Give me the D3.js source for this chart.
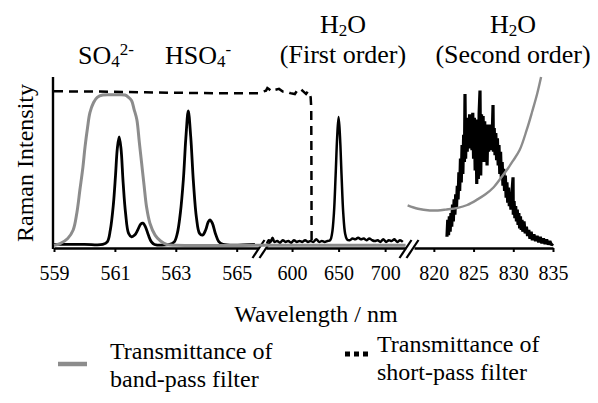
<!DOCTYPE html>
<html>
<head>
<meta charset="utf-8">
<script src="https://cdn.jsdelivr.net/npm/d3@7"></script>
<style>
  body { margin: 0; background: #fff; }
  text { font-family: "Liberation Serif", "Times New Roman", serif; fill: #000; }
</style>
</head>
<body>
<div id="chart"></div>
<script>
var width = 598,
    height = 403;

// wavelength windows of the three axis pieces (nm)
var seg1Domain = [559, 565.7],
    seg2Domain = [572, 722],
    seg3Domain = [817.5, 835];

var ticks1 = [559, 561, 563, 565],
    ticks2 = [600, 650, 700],
    ticks3 = [820, 825, 830, 835];

// Raman spectrum, sulfate region [nm, intensity]
var raman1 = [[559,0.015],[560,0.015],[560.6,0.015],[560.75,0.03],[560.85,0.1],[560.95,0.25],[561.02,0.42],
  [561.08,0.58],[561.14,0.647],[561.2,0.58],[561.27,0.38],[561.35,0.2],[561.45,0.08],[561.55,0.06],
  [561.65,0.07],[561.75,0.1],[561.85,0.135],[561.92,0.14],[562.0,0.12],[562.1,0.07],[562.2,0.03],
  [562.3,0.015],[562.8,0.015],[562.95,0.03],[563.05,0.08],[563.15,0.2],[563.25,0.4],[563.33,0.64],
  [563.41,0.8],[563.49,0.65],[563.58,0.38],[563.68,0.17],[563.78,0.08],[563.88,0.07],[563.98,0.1],
  [564.06,0.145],[564.12,0.16],[564.2,0.14],[564.3,0.08],[564.42,0.03],[564.55,0.015],[565.6,0.015]];

// first order water band
var raman2 = [[573,0.02],[575,0.04],[577,0.03],[579,0.055],[581,0.03],[584,0.035],[587,0.025],[590,0.04],
  [593,0.03],[596,0.035],[599,0.025],[602,0.04],[605,0.03],[608,0.035],[611,0.03],[614,0.04],[617,0.03],
  [620,0.035],[623,0.03],[626,0.045],[629,0.03],[632,0.035],[635,0.03],[638,0.035],[641,0.04],[643,0.08],
  [645,0.2],[646.8,0.42],[648.5,0.65],[650,0.765],[651.5,0.65],[653.2,0.42],[655,0.2],[657,0.08],
  [659,0.045],[662,0.04],[665,0.05],[668,0.045],[671,0.055],[674,0.045],[677,0.05],[680,0.04],[683,0.05],
  [686,0.04],[689,0.035],[692,0.04],[695,0.03],[698,0.045],[701,0.03],[704,0.04],[707,0.035],[710,0.045],
  [713,0.03],[716,0.04],[719,0.03]];

// second order water band (noisy)
var raman3 = [[821.65,0.06],[821.75,0.16],[821.85,0.07],[821.95,0.18],[822.05,0.09],[822.15,0.2],
  [822.25,0.12],[822.35,0.25],[822.45,0.15],[822.55,0.28],[822.65,0.19],[822.75,0.31],[822.85,0.23],
  [822.95,0.36],[823.05,0.28],[823.15,0.44],[823.25,0.33],[823.35,0.52],[823.45,0.38],[823.55,0.6],
  [823.65,0.43],[823.75,0.66],[823.85,0.5],[823.92,0.9],[824.0,0.52],[824.1,0.74],[824.2,0.56],
  [824.3,0.76],[824.4,0.58],[824.5,0.78],[824.6,0.6],[824.7,0.77],[824.8,0.57],[824.9,0.79],[825.0,0.52],
  [825.1,0.76],[825.2,0.45],[825.3,0.75],[825.4,0.37],[825.5,0.74],[825.6,0.4],[825.7,0.79],[825.81,0.92],
  [825.9,0.42],[826.0,0.78],[826.1,0.5],[826.2,0.77],[826.3,0.52],[826.4,0.74],[826.5,0.5],[826.6,0.7],
  [826.7,0.48],[826.8,0.72],[826.9,0.56],[827.0,0.72],[827.1,0.6],[827.2,0.71],[827.3,0.57],[827.45,0.835],
  [827.5,0.56],[827.6,0.7],[827.7,0.54],[827.8,0.67],[827.9,0.51],[828.0,0.64],[828.1,0.48],[828.2,0.6],
  [828.3,0.43],[828.4,0.56],[828.5,0.4],[828.6,0.5],[828.7,0.36],[828.8,0.46],[828.9,0.33],[829.0,0.42],
  [829.1,0.29],[829.2,0.38],[829.3,0.26],[829.4,0.35],[829.5,0.24],[829.6,0.32],[829.7,0.22],[829.8,0.3],
  [829.97,0.41],[830.0,0.19],[830.1,0.27],[830.2,0.17],[830.3,0.24],[830.4,0.15],[830.5,0.22],[830.6,0.13],
  [830.7,0.2],[830.8,0.11],[830.9,0.18],[831.0,0.1],[831.1,0.16],[831.2,0.09],[831.35,0.15],[831.5,0.08],
  [831.65,0.12],[831.8,0.065],[831.95,0.1],[832.1,0.048],[832.25,0.09],[832.4,0.04],[832.6,0.075],
  [832.8,0.035],[833.0,0.065],[833.2,0.028],[833.4,0.06],[833.6,0.022],[833.8,0.05],[834.0,0.018],
  [834.2,0.045],[834.4,0.014],[834.6,0.035],[834.8,0.012],[835.0,0.02]];

// transmittance of the band-pass filter
var bandPass12 = [[559,0.01],[559.2,0.02],[559.45,0.05],[559.63,0.1],[559.75,0.2],[559.85,0.335],
  [559.95,0.47],[560.02,0.59],[560.1,0.7],[560.18,0.79],[560.3,0.85],[560.42,0.88],[560.6,0.894],
  [561.0,0.895],[561.33,0.894],[561.45,0.88],[561.55,0.86],[561.63,0.81],[561.72,0.75],[561.8,0.62],
  [561.88,0.49],[561.96,0.36],[562.04,0.235],[562.15,0.14],[562.32,0.07],[562.5,0.035],[562.7,0.015],
  [563,0.01],[565.7,0.01],[572,0.01],[722,0.01]];
var bandPass3 = [[816.7,0.245],[818,0.225],[819.5,0.215],[820.5,0.215],[821.5,0.22],[823,0.23],
  [824.2,0.247],[825.5,0.28],[826.5,0.31],[827.5,0.35],[828.5,0.41],[829.3,0.46],[830,0.51],[830.8,0.57],
  [831.7,0.69],[832.4,0.8],[833,0.9],[833.5,1.0]];

// transmittance of the short-pass filter
var shortPass = [[559,0.916],[560.5,0.914],[562,0.91],[563.5,0.906],[564.5,0.904],[565.7,0.905],
  [572,0.92],[573.5,0.935],[575,0.93],[578,0.915],[582,0.925],[586,0.93],[590,0.915],[594,0.915],
  [598,0.905],[603,0.9],[606,0.925],[609,0.93],[612,0.915],[615,0.9],[617,0.915],[618.5,0.91],
  [620,0.88],[620.6,0.82],[620.8,0.5],[621,0.015]];

var svg = d3.select("#chart").append("svg")
    .attr("width", width)
    .attr("height", height);

var x1 = d3.scaleLinear().domain(seg1Domain).range([54, 258]),
    x2 = d3.scaleLinear().domain(seg2Domain).range([266, 405.6]),
    x3 = d3.scaleLinear().domain(seg3Domain).range([414, 553]),
    y = d3.scaleLinear().domain([0, 1]).range([247, 77]);

function xPos(nm) {
  if (nm < 568) return x1(nm);
  if (nm < 770) return x2(nm);
  return x3(nm);
}

var smooth = d3.line()
    .x(function(d) { return xPos(d[0]); })
    .y(function(d) { return y(d[1]); })
    .curve(d3.curveCatmullRom);

var straight = d3.line()
    .x(function(d) { return xPos(d[0]); })
    .y(function(d) { return y(d[1]); });

// axes
function drawAxis(scale, tickVals) {
  var g = svg.append("g")
      .attr("transform", "translate(0,248)")
      .call(d3.axisBottom(scale).tickValues(tickVals).tickSize(4).tickSizeOuter(0)
        .tickPadding(14).tickFormat(d3.format("d")));
  g.select(".domain").attr("stroke-width", 2.4);
  g.selectAll(".tick line").attr("stroke-width", 2);
  g.selectAll(".tick text").style("font-size", "20px");
}
drawAxis(x1, ticks1);
drawAxis(x2, ticks2);
drawAxis(x3, ticks3);

svg.append("line")
    .attr("x1", 53).attr("x2", 53)
    .attr("y1", 77).attr("y2", 249)
    .attr("stroke", "#000")
    .attr("stroke-width", 2.4);

// axis break marks
[262, 409].forEach(function(cx) {
  [-3.5, 3.5].forEach(function(off) {
    svg.append("line")
        .attr("x1", cx + off - 6).attr("y1", 258)
        .attr("x2", cx + off + 6).attr("y2", 240)
        .attr("stroke", "#000")
        .attr("stroke-width", 2.2);
  });
});

// spectra
svg.append("path").datum(raman1)
    .attr("d", smooth).attr("fill", "none").attr("stroke", "#000").attr("stroke-width", 2.8);
svg.append("path").datum(raman2)
    .attr("d", smooth).attr("fill", "none").attr("stroke", "#000").attr("stroke-width", 2.5);
svg.append("path").datum(raman3)
    .attr("d", straight).attr("fill", "none").attr("stroke", "#000").attr("stroke-width", 3.2)
    .attr("stroke-linejoin", "bevel");

svg.append("path").datum(bandPass12)
    .attr("d", smooth).attr("fill", "none").attr("stroke", "#8c8c8c").attr("stroke-width", 3);
svg.append("path").datum(bandPass3)
    .attr("d", smooth).attr("fill", "none").attr("stroke", "#8c8c8c").attr("stroke-width", 2.4);

svg.append("path").datum(shortPass)
    .attr("d", straight).attr("fill", "none").attr("stroke", "#000").attr("stroke-width", 2.5)
    .attr("stroke-dasharray", "9,6");

// peak labels
function chem(xp, yp, anchor, parts) {
  var t = svg.append("text")
      .attr("x", xp).attr("y", yp)
      .attr("text-anchor", anchor)
      .style("font-size", "26px");
  parts.forEach(function(p) {
    t.append("tspan")
        .attr("dy", p[1])
        .style("font-size", p[2] ? "17px" : "26px")
        .text(p[0]);
  });
}
chem(78, 64, "start", [["SO", 0], ["4", 3, 1], ["2-", -12, 1]]);
chem(165, 64, "start", [["HSO", 0], ["4", 3, 1], ["-", -12, 1]]);
chem(343, 33, "middle", [["H", 0], ["2", 3, 1], ["O", -3]]);
chem(513, 33, "middle", [["H", 0], ["2", 3, 1], ["O", -3]]);

svg.append("text").attr("x", 343).attr("y", 63).attr("text-anchor", "middle")
    .style("font-size", "26px").text("(First order)");
svg.append("text").attr("x", 513).attr("y", 63).attr("text-anchor", "middle")
    .style("font-size", "26px").text("(Second order)");

// axis titles
svg.append("text")
    .attr("transform", "translate(33,163) rotate(-90)")
    .attr("text-anchor", "middle")
    .style("font-size", "24px")
    .text("Raman Intensity");

svg.append("text")
    .attr("x", 316).attr("y", 322)
    .attr("text-anchor", "middle")
    .style("font-size", "24px")
    .text("Wavelength / nm");

// legend
svg.append("line")
    .attr("x1", 58).attr("x2", 87).attr("y1", 364).attr("y2", 364)
    .attr("stroke", "#8c8c8c").attr("stroke-width", 4.5);
svg.append("text").attr("x", 110).attr("y", 359).style("font-size", "24px").text("Transmittance of");
svg.append("text").attr("x", 110).attr("y", 387).style("font-size", "24px").text("band-pass filter");

svg.append("line")
    .attr("x1", 345).attr("x2", 370).attr("y1", 354).attr("y2", 354)
    .attr("stroke", "#000").attr("stroke-width", 5).attr("stroke-dasharray", "5,4");
svg.append("text").attr("x", 377).attr("y", 352).style("font-size", "24px").text("Transmittance of");
svg.append("text").attr("x", 377).attr("y", 380).style("font-size", "24px").text("short-pass filter");
</script>
</body>
</html>
